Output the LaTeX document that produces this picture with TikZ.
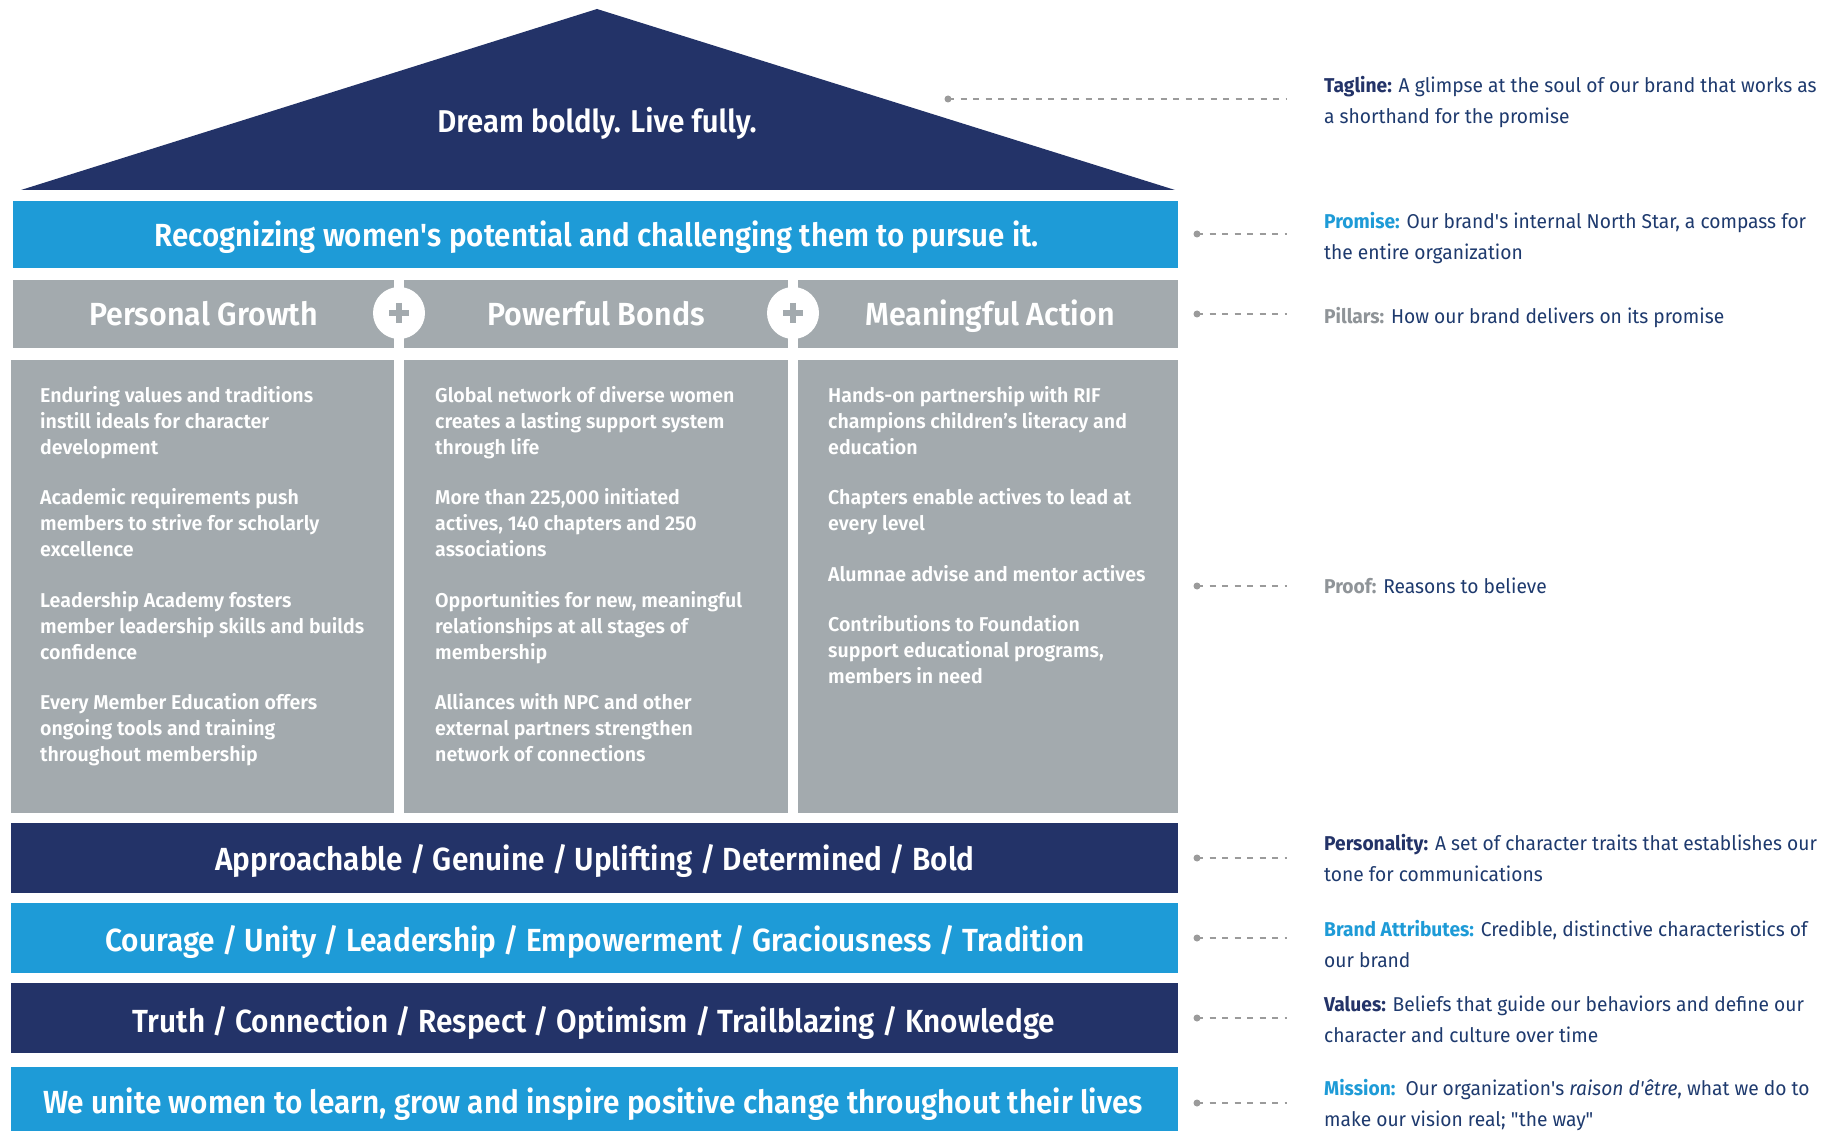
\documentclass[tikz,border=0pt]{standalone}
\usepackage{fontspec}
\setmainfont{Fira Sans}[FakeStretch=0.96]
\newfontfamily\barfont{Fira Sans SemiBold}[FakeStretch=0.93]
\newfontfamily\promfont{Fira Sans SemiBold}[FakeStretch=0.922]
\newfontfamily\headfont{Fira Sans SemiBold}[FakeStretch=0.95]
\newfontfamily\prooffont{Fira Sans SemiBold}[FakeStretch=0.98]
\newcommand{\apos}{\textquotesingle}
\definecolor{navy}{HTML}{233368}
\definecolor{sky}{HTML}{1E9BD7}
\definecolor{pillar}{HTML}{A3AAAE}
\definecolor{ink}{HTML}{1E3A6E}
\definecolor{labgray}{HTML}{8F9498}
\definecolor{lead}{HTML}{9B9B9B}
\tikzset{
  blk/.style={draw=none, inner sep=0pt, outer sep=0pt, anchor=north west},
  wtext/.style={text=white, anchor=base, inner sep=0pt},
  bigfont/.style={font=\barfont\fontsize{32}{38}\selectfont},
  headtext/.style={font=\headfont\fontsize{32}{38}\selectfont},
  prooftext/.style={text=white, anchor=north west, inner sep=0pt, align=left,
     font=\prooffont\fontsize{20}{26}\selectfont},
  lbl/.style={text=ink, anchor=north west, inner sep=0pt, align=left,
     font=\fontsize{20}{31.75}\selectfont},
  leader/.style={draw=lead, line width=1.5pt, dash pattern=on 6pt off 6.5pt},
  leaddot/.style={circle, fill=lead, inner sep=0pt, minimum size=7pt}
}
\begin{document}
\begin{tikzpicture}[x=1pt,y=-1pt]
\fill[white] (0,0) rectangle (1839,1131);
\useasboundingbox (0,0) rectangle (1839,1131);
% roof
\fill[navy] (597,9) -- (1175,190) -- (21,190) -- cycle;
\node[wtext, font=\barfont\fontsize{31.5}{36}\selectfont] (tagT) at (597,133) {Dream boldly. Live fully.};
% promise
\node[blk, fill=sky, minimum width=1165pt, minimum height=67pt] (promise) at (13,201) {};
\node[wtext, font=\promfont\fontsize{32}{38}\selectfont] (promiseT) at (597,247) {Recognizing women\apos s potential and challenging them to pursue it.};
% pillars
\node[blk, fill=pillar, minimum width=381pt, minimum height=68pt] (p1) at (13,280) {};
\node[blk, fill=pillar, minimum width=384pt, minimum height=68pt] (p2) at (404,280) {};
\node[blk, fill=pillar, minimum width=380pt, minimum height=68pt] (p3) at (798,280) {};
\node[wtext, headtext] (p1T) at (203.5,326) {Personal Growth};
\node[wtext, headtext] (p2T) at (596,326) {Powerful Bonds};
\node[wtext, headtext] (p3T) at (990,326) {Meaningful Action};
\node[circle, fill=white, minimum size=52pt, inner sep=0pt] (plusA) at (399,313) {};
\node[circle, fill=white, minimum size=52pt, inner sep=0pt] (plusB) at (793,313) {};
\draw[pillar, line width=6pt] (plusA.center) ++(-10,0) -- ++(20,0) (plusA.center) ++(0,-10) -- ++(0,20);
\draw[pillar, line width=6pt] (plusB.center) ++(-10,0) -- ++(20,0) (plusB.center) ++(0,-10) -- ++(0,20);
% proof
\node[blk, fill=pillar, minimum width=383pt, minimum height=453pt] (q1) at (11,360) {};
\node[blk, fill=pillar, minimum width=384pt, minimum height=453pt] (q2) at (404,360) {};
\node[blk, fill=pillar, minimum width=380pt, minimum height=453pt] (q3) at (798,360) {};
\node[prooftext] (q1T) at (40,383.8) {\strut Enduring values and traditions\\ instill ideals for character\\ development\\[24.5pt]
Academic requirements push\\ members to strive for scholarly\\ excellence\\[24.5pt]
Leadership Academy fosters\\ member leadership skills and builds\\ confidence\\[24.5pt]
Every Member Education offers\\ ongoing tools and training\\ throughout membership};
\node[prooftext] (q2T) at (435,383.8) {\strut Global network of diverse women\\ creates a lasting support system\\ through life\\[24.5pt]
More than 225,000 initiated\\ actives, 140 chapters and 250\\ associations\\[24.5pt]
Opportunities for new, meaningful\\ relationships at all stages of\\ membership\\[24.5pt]
Alliances with NPC and other\\ external partners strengthen\\ network of connections};
\node[prooftext] (q3T) at (828,383.8) {\strut Hands-on partnership with RIF\\ champions children’s literacy and\\ education\\[24.5pt]
Chapters enable actives to lead at\\ every level\\[24.5pt]
Alumnae advise and mentor actives\\[24.5pt]
Contributions to Foundation\\ support educational programs,\\ members in need};
% bottom bars
\node[blk, fill=navy, minimum width=1167pt, minimum height=70pt] (pers) at (11,823) {};
\node[wtext, bigfont] (persT) at (595,870) {Approachable / Genuine / Uplifting / Determined / Bold};
\node[blk, fill=sky, minimum width=1167pt, minimum height=70pt] (attr) at (11,903) {};
\node[wtext, bigfont] (attrT) at (595,951) {Courage / Unity / Leadership / Empowerment / Graciousness / Tradition};
\node[blk, fill=navy, minimum width=1167pt, minimum height=70pt] (vals) at (11,983) {};
\node[wtext, bigfont] (valsT) at (594,1032) {Truth / Connection / Respect / Optimism / Trailblazing / Knowledge};
\node[blk, fill=sky, minimum width=1167pt, minimum height=70pt] (miss) at (11,1067) {};
\node[wtext, bigfont] (missT) at (593,1113) {We unite women to learn, grow and inspire positive change throughout their lives};
% right labels
\node[lbl] (tagL) at (1324,69.8) {\strut\textbf{\color{navy}Tagline:} A glimpse at the soul of our brand that works as\\ a shorthand for the promise};
\node[lbl] (promL) at (1324,205.8) {\strut\textbf{\color{sky}Promise:} Our brand\apos s internal North Star, a compass for\\ the entire organization};
\node[lbl] (pillL) at (1324,300.8) {\strut\textbf{\color{labgray}Pillars:} How our brand delivers on its promise};
\node[lbl] (proofL) at (1324,570.8) {\strut\textbf{\color{labgray}Proof:} Reasons to believe};
\node[lbl] (persL) at (1324,827.8) {\strut\textbf{\color{navy}Personality:} A set of character traits that establishes our\\ tone for communications};
\node[lbl] (attrL) at (1324,913.8) {\strut\textbf{\color{sky}Brand Attributes:} Credible, distinctive characteristics of\\ our brand};
\node[lbl] (valsL) at (1324,988.8) {\strut\textbf{\color{navy}Values:} Beliefs that guide our behaviors and define our\\ character and culture over time};
\node[lbl] (missL) at (1324,1072.8) {\strut\textbf{\color{sky}Mission:}\ \ Our organization\apos s \textit{raison d\apos être}, what we do to\\ make our vision real; \textquotedbl the way\textquotedbl};
% leaders
\foreach \n/\xa/\yy in {tag/948/99, prom/1197/234, pill/1197/314, proof/1197/586, pers/1197/858, attr/1197/938, vals/1197/1018, miss/1197/1103}{
  \coordinate (\n D) at (\xa,\yy);
  \coordinate (\n E) at (1287,\yy);
  \draw[leader] (\n D) -- (\n E);
  \node[leaddot] at (\n D) {};
}
\end{tikzpicture}
\end{document}
